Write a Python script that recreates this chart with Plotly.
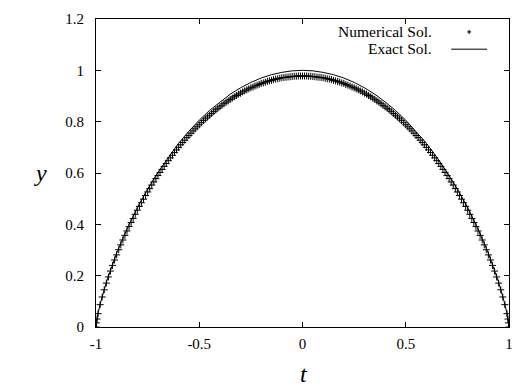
import plotly.graph_objects as go

# Numerical solution samples (t, y)
t_num = [
    -1.0, -0.998, -0.995, -0.99, -0.98, -0.97, -0.96, -0.95, -0.94, -0.93,
    -0.92, -0.91, -0.90, -0.89, -0.88, -0.87, -0.86, -0.85, -0.84, -0.83,
    -0.82, -0.81, -0.80, -0.79, -0.78, -0.77, -0.76, -0.75, -0.74, -0.73,
    -0.72, -0.71, -0.70, -0.69, -0.68, -0.67, -0.66, -0.65, -0.64, -0.63,
    -0.62, -0.61, -0.60, -0.59, -0.58, -0.57, -0.56, -0.55, -0.54, -0.53,
    -0.52, -0.51, -0.50, -0.49, -0.48, -0.47, -0.46, -0.45, -0.44, -0.43,
    -0.42, -0.41, -0.40, -0.39, -0.38, -0.37, -0.36, -0.35, -0.34, -0.33,
    -0.32, -0.31, -0.30, -0.29, -0.28, -0.27, -0.26, -0.25, -0.24, -0.23,
    -0.22, -0.21, -0.20, -0.19, -0.18, -0.17, -0.16, -0.15, -0.14, -0.13,
    -0.12, -0.11, -0.10, -0.09, -0.08, -0.07, -0.06, -0.05, -0.04, -0.03,
    -0.02, -0.01, 0.0, 0.01, 0.02, 0.03, 0.04, 0.05, 0.06, 0.07,
    0.08, 0.09, 0.10, 0.11, 0.12, 0.13, 0.14, 0.15, 0.16, 0.17,
    0.18, 0.19, 0.20, 0.21, 0.22, 0.23, 0.24, 0.25, 0.26, 0.27,
    0.28, 0.29, 0.30, 0.31, 0.32, 0.33, 0.34, 0.35, 0.36, 0.37,
    0.38, 0.39, 0.40, 0.41, 0.42, 0.43, 0.44, 0.45, 0.46, 0.47,
    0.48, 0.49, 0.50, 0.51, 0.52, 0.53, 0.54, 0.55, 0.56, 0.57,
    0.58, 0.59, 0.60, 0.61, 0.62, 0.63, 0.64, 0.65, 0.66, 0.67,
    0.68, 0.69, 0.70, 0.71, 0.72, 0.73, 0.74, 0.75, 0.76, 0.77,
    0.78, 0.79, 0.80, 0.81, 0.82, 0.83, 0.84, 0.85, 0.86, 0.87,
    0.88, 0.89, 0.90, 0.91, 0.92, 0.93, 0.94, 0.95, 0.96, 0.97,
    0.98, 0.99, 0.995, 0.998, 1.0,
]
y_num = [
    0.000, 0.016, 0.031, 0.052, 0.087, 0.117, 0.145, 0.171, 0.195, 0.218,
    0.240, 0.261, 0.281, 0.301, 0.320, 0.339, 0.357, 0.374, 0.391, 0.407,
    0.423, 0.439, 0.455, 0.470, 0.484, 0.498, 0.512, 0.526, 0.539, 0.553,
    0.565, 0.578, 0.590, 0.602, 0.614, 0.626, 0.637, 0.648, 0.659, 0.669,
    0.680, 0.690, 0.700, 0.710, 0.719, 0.728, 0.738, 0.746, 0.755, 0.764,
    0.772, 0.780, 0.788, 0.796, 0.804, 0.811, 0.818, 0.825, 0.832, 0.839,
    0.846, 0.852, 0.858, 0.864, 0.870, 0.876, 0.881, 0.887, 0.892, 0.897,
    0.902, 0.907, 0.911, 0.916, 0.920, 0.924, 0.928, 0.932, 0.935, 0.939,
    0.942, 0.945, 0.949, 0.951, 0.954, 0.957, 0.959, 0.961, 0.964, 0.966,
    0.967, 0.969, 0.971, 0.972, 0.973, 0.974, 0.975, 0.976, 0.977, 0.977,
    0.978, 0.978, 0.978, 0.978, 0.978, 0.977, 0.977, 0.976, 0.975, 0.974,
    0.973, 0.972, 0.971, 0.969, 0.967, 0.966, 0.964, 0.961, 0.959, 0.957,
    0.954, 0.951, 0.949, 0.945, 0.942, 0.939, 0.935, 0.932, 0.928, 0.924,
    0.920, 0.916, 0.911, 0.907, 0.902, 0.897, 0.892, 0.887, 0.881, 0.876,
    0.870, 0.864, 0.858, 0.852, 0.846, 0.839, 0.832, 0.825, 0.818, 0.811,
    0.804, 0.796, 0.788, 0.780, 0.772, 0.764, 0.755, 0.746, 0.738, 0.728,
    0.719, 0.710, 0.700, 0.690, 0.680, 0.669, 0.659, 0.648, 0.637, 0.626,
    0.614, 0.602, 0.590, 0.578, 0.565, 0.553, 0.539, 0.526, 0.512, 0.498,
    0.484, 0.470, 0.455, 0.439, 0.423, 0.407, 0.391, 0.374, 0.357, 0.339,
    0.320, 0.301, 0.281, 0.261, 0.240, 0.218, 0.195, 0.171, 0.145, 0.117,
    0.087, 0.052, 0.031, 0.016, 0.000,
]

# Exact solution samples (t, y)
t_exact = [-1.0, -0.995, -0.99, -0.98, -0.97, -0.95, -0.90, -0.85, -0.80, -0.75,
           -0.70, -0.65, -0.60, -0.55, -0.50, -0.45, -0.40, -0.35, -0.30, -0.25,
           -0.20, -0.15, -0.10, -0.05, 0.0, 0.05, 0.10, 0.15, 0.20, 0.25,
           0.30, 0.35, 0.40, 0.45, 0.50, 0.55, 0.60, 0.65, 0.70, 0.75,
           0.80, 0.85, 0.90, 0.95, 0.97, 0.98, 0.99, 0.995, 1.0]
y_exact = [0.000, 0.032, 0.053, 0.089, 0.120, 0.174, 0.288, 0.382, 0.465, 0.538,
           0.603, 0.662, 0.716, 0.763, 0.806, 0.844, 0.877, 0.907, 0.932, 0.953,
           0.970, 0.983, 0.992, 0.998, 1.000, 0.998, 0.992, 0.983, 0.970, 0.953,
           0.932, 0.907, 0.877, 0.844, 0.806, 0.763, 0.716, 0.662, 0.603, 0.538,
           0.465, 0.382, 0.288, 0.174, 0.120, 0.089, 0.053, 0.032, 0.000]

x_ticks = [-1, -0.5, 0, 0.5, 1]
x_tick_labels = ["-1", "-0.5", "0", "0.5", "1"]
y_ticks = [0, 0.2, 0.4, 0.6, 0.8, 1.0, 1.2]
y_tick_labels = ["0", "0.2", "0.4", "0.6", "0.8", "1", "1.2"]

SERIF = "Liberation Serif, Times New Roman, serif"

fig = go.Figure()
fig.add_trace(go.Scatter(
    x=t_exact, y=y_exact, mode="lines", name="Exact Sol.",
    line=dict(color="black", width=1), showlegend=False,
))
fig.add_trace(go.Scatter(
    x=t_num, y=y_num, mode="markers", name="Numerical Sol.",
    marker=dict(symbol="cross-thin", size=5, color="black",
                line=dict(color="black", width=1)),
    showlegend=False,
))

axis_common = dict(
    showline=True, linecolor="black", linewidth=1, mirror="ticks",
    ticks="inside", ticklen=5, tickcolor="black", tickwidth=1,
    showgrid=False, zeroline=False,
    tickfont=dict(family=SERIF, size=15, color="black"),
)
fig.update_xaxes(range=[-1, 1], tickvals=x_ticks, ticktext=x_tick_labels,
                 ticklabelstandoff=3, **axis_common)
fig.update_yaxes(range=[0, 1.2], tickvals=y_ticks, ticktext=y_tick_labels,
                 ticklabelstandoff=8, **axis_common)

# Axis titles
fig.add_annotation(text="<i>t</i>", xref="paper", yref="paper", x=0.503, y=-0.153,
                   showarrow=False, font=dict(family=SERIF, size=24, color="black"),
                   xanchor="center", yanchor="middle")
fig.add_annotation(text="<i>y</i>", xref="paper", yref="paper", x=-0.134, y=0.5,
                   showarrow=False, font=dict(family=SERIF, size=24, color="black"),
                   xanchor="center", yanchor="middle")

# Key in the upper right corner: labels on the left, samples on the right
fig.add_annotation(text="Numerical Sol.", xref="paper", yref="paper", x=0.818, y=0.958,
                   showarrow=False, font=dict(family=SERIF, size=15.5, color="black"),
                   xanchor="right", yanchor="middle")
fig.add_annotation(text="Exact Sol.", xref="paper", yref="paper", x=0.818, y=0.904,
                   showarrow=False, font=dict(family=SERIF, size=15.5, color="black"),
                   xanchor="right", yanchor="middle")
fig.add_shape(type="line", xref="paper", yref="paper", x0=0.86, x1=0.947,
              y0=0.902, y1=0.902, line=dict(color="black", width=1))
fig.add_shape(type="line", xref="paper", yref="paper", x0=0.9035 - 0.005, x1=0.9035 + 0.005,
              y0=0.958, y1=0.958, line=dict(color="black", width=1))
fig.add_shape(type="line", xref="paper", yref="paper", x0=0.9035, x1=0.9035,
              y0=0.958 - 0.007, y1=0.958 + 0.007, line=dict(color="black", width=1))

fig.update_layout(
    width=517, height=392,
    margin=dict(l=96, r=4, t=19, b=65),
    paper_bgcolor="white", plot_bgcolor="white",
)

fig.write_html("out.html")
